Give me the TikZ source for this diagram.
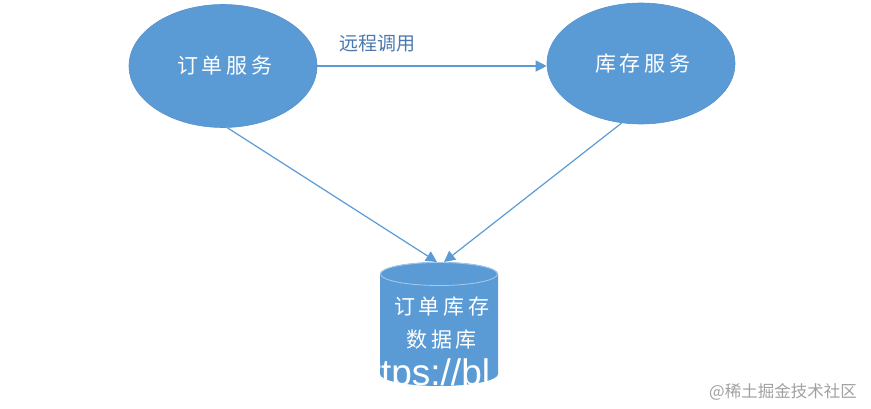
\documentclass[tikz,border=0pt]{standalone}
\usepackage{fontspec}
\usetikzlibrary{shapes.geometric,arrows.meta}
\newfontfamily\cjk{Noto Sans CJK SC}
\newfontfamily\cjkls{Noto Sans CJK SC}[LetterSpace=17]
\newfontfamily\lsans{Liberation Sans}
\definecolor{boxblue}{HTML}{5B9BD5}
\definecolor{edgeblue}{HTML}{5692CC}
\definecolor{lightrim}{HTML}{A8C9EA}
\definecolor{labelblue}{HTML}{4A78B0}
\definecolor{wmgray}{HTML}{A0A0A0}
\tikzset{
  svc/.style={ellipse, fill=boxblue, draw=edgeblue, line width=0.6pt,
    minimum width=188pt, minimum height=123pt, inner sep=0pt, text=white,
    font=\cjkls\fontsize{21}{24}\selectfont},
  conn/.style={draw=boxblue, line width=1.2pt,
    -{Triangle[length=11pt,width=11pt]}},
  dbtext/.style={text=white, align=center,
    font=\cjkls\fontsize{21}{33}\selectfont}
}
\begin{document}
\begin{tikzpicture}[x=1pt,y=-1pt]
\useasboundingbox (0,0) rectangle (871,409);
% services
\node[svc] (a) at (223,66) {订单服务\kern-3.5pt};
\node[svc, minimum height=121pt] (b) at (641,63.5) {库存服务\kern-3.5pt};
% remote call
\draw[conn] (a.east) -- (a.east -| b.west) coordinate (bw);
\node[text=labelblue, font=\cjk\fontsize{19}{22}\selectfont] (lbl) at (377,43) {远程调用};
% database cylinder
\fill[boxblue] (380,274) -- (380,374)
  arc[start angle=180, end angle=360, x radius=59pt, y radius=12pt]
  -- (498,274)
  arc[start angle=0, end angle=180, x radius=59pt, y radius=12pt] -- cycle;
\draw[lightrim, line width=0.8pt] (439,274) ellipse [x radius=58.5pt, y radius=11.5pt];
\node[dbtext] (db) at (440,323) {订单库存\kern-3.5pt\\数据库\kern-3.5pt};
\coordinate (dbL) at (437,262);
\coordinate (dbR) at (444,262);
% connectors to database
\draw[conn] (a.274) -- (dbL);
\draw[conn] (b.252) -- (dbR);
% watermarks
\node[anchor=base west, text=white, inner sep=0pt, font=\lsans\fontsize{37}{40}\selectfont] (wm1) at (350,385) {https://bl};
\node[text=wmgray, inner sep=0pt, font=\cjk\fontsize{16.5}{18}\selectfont] (wm2) at (783,392) {@稀土掘金技术社区};
\end{tikzpicture}
\end{document}
